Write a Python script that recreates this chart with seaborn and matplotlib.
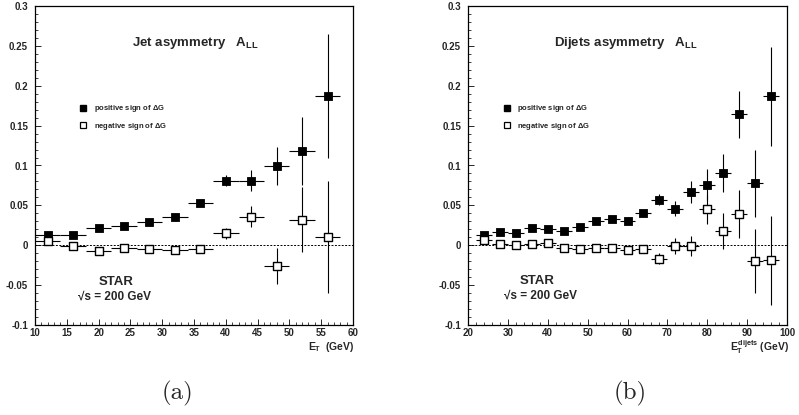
import numpy as np
import pandas as pd
import matplotlib
matplotlib.use("Agg")
import matplotlib.pyplot as plt
import seaborn as sns
from matplotlib.ticker import MultipleLocator
from matplotlib.lines import Line2D

sns.set_style("ticks")
plt.rcParams['font.family'] = ['Liberation Sans', 'DejaVu Sans']
plt.rcParams['font.weight'] = 'bold'
plt.rcParams['mathtext.fontset'] = 'custom'
plt.rcParams['mathtext.rm'] = 'Liberation Sans:bold'
plt.rcParams['mathtext.it'] = 'Liberation Sans:bold'
plt.rcParams['mathtext.bf'] = 'Liberation Sans:bold'
plt.rcParams['mathtext.sf'] = 'Liberation Sans:bold'

# ---------------- data ----------------
jet_x = [12, 16, 20, 24, 28, 32, 36, 40, 44, 48, 52, 56]
jet_pos = [0.013, 0.013, 0.022, 0.024, 0.029, 0.035, 0.053, 0.081, 0.081, 0.099, 0.118, 0.187]
jet_pos_err = [0.003, 0.003, 0.003, 0.003, 0.003, 0.003, 0.004, 0.007, 0.013, 0.024, 0.043, 0.078]
jet_neg = [0.005, -0.001, -0.007, -0.004, -0.005, -0.006, -0.005, 0.015, 0.036, -0.026, 0.032, 0.010]
jet_neg_err = [0.003, 0.003, 0.003, 0.003, 0.003, 0.003, 0.003, 0.007, 0.013, 0.022, 0.041, 0.070]

dijet_x = [24, 28, 32, 36, 40, 44, 48, 52, 56, 60, 64, 68, 72, 76, 80, 84, 88, 92, 96]
dijet_pos = [0.013, 0.016, 0.015, 0.022, 0.021, 0.018, 0.023, 0.030, 0.033, 0.031, 0.040,
             0.057, 0.046, 0.067, 0.076, 0.091, 0.164, 0.078, 0.187]
dijet_pos_err = [0.003, 0.003, 0.003, 0.003, 0.003, 0.003, 0.003, 0.003, 0.003, 0.004, 0.004,
                 0.007, 0.009, 0.014, 0.019, 0.024, 0.030, 0.042, 0.062]
dijet_neg = [0.006, 0.002, 0.000, 0.002, 0.003, -0.003, -0.005, -0.003, -0.003, -0.006, -0.005,
             -0.017, -0.001, -0.001, 0.045, 0.018, 0.039, -0.020, -0.019]
dijet_neg_err = [0.003, 0.003, 0.003, 0.003, 0.003, 0.003, 0.003, 0.003, 0.003, 0.003, 0.004,
                 0.007, 0.010, 0.013, 0.018, 0.023, 0.030, 0.040, 0.056]

bin_half_width = 2

y_ticks = [-0.1, -0.05, 0, 0.05, 0.1, 0.15, 0.2, 0.25, 0.3]
y_tick_labels = ["-0.1", "-0.05", "0", "0.05", "0.1", "0.15", "0.2", "0.25", "0.3"]
jet_x_ticks = [10, 15, 20, 25, 30, 35, 40, 45, 50, 55, 60]
dijet_x_ticks = [20, 30, 40, 50, 60, 70, 80, 90, 100]

panel_titles = ["Jet asymmetry   $A_{LL}$", "Dijets asymmetry   $A_{LL}$"]
legend_labels = [r"positive sign of $\Delta G$", r"negative sign of $\Delta G$"]
x_labels = [r"$E_T$  (GeV)", r"$E_T^{dijets}$ (GeV)"]
captions = ["(a)", "(b)"]

W, H = 799, 415
fig = plt.figure(figsize=(W / 100, H / 100), dpi=100)

def fx(px):
    return px / W

def fy(py):
    return 1 - py / H

ax1 = fig.add_axes([fx(35), fy(325), (353 - 35) / W, (325 - 6) / H])
ax2 = fig.add_axes([fx(468), fy(325), (787 - 468) / W, (325 - 6) / H])

panels = [
    dict(ax=ax1, x=jet_x, pos=jet_pos, pe=jet_pos_err, neg=jet_neg, ne=jet_neg_err,
         xlim=(10, 60), xticks=jet_x_ticks, minor=1),
    dict(ax=ax2, x=dijet_x, pos=dijet_pos, pe=dijet_pos_err, neg=dijet_neg, ne=dijet_neg_err,
         xlim=(20, 100), xticks=dijet_x_ticks, minor=2),
]

for i, p in enumerate(panels):
    ax = p["ax"]
    ax.axhline(0, color="black", lw=0.7, ls=(0, (2.0, 1.5)), zorder=1)
    df_pos = pd.DataFrame({"x": p["x"], "y": p["pos"], "err": p["pe"]})
    df_neg = pd.DataFrame({"x": p["x"], "y": p["neg"], "err": p["ne"]})
    for df in (df_pos, df_neg):
        ax.errorbar(df["x"], df["y"], xerr=bin_half_width, yerr=df["err"], fmt="none",
                    ecolor="black", elinewidth=0.8, capsize=0, zorder=2)
    sns.scatterplot(data=df_pos, x="x", y="y", ax=ax, marker="s", s=32,
                    color="black", edgecolor="black", linewidth=0.6, zorder=4, legend=False)
    sns.scatterplot(data=df_neg, x="x", y="y", ax=ax, marker="s", s=28,
                    color="white", edgecolor="black", linewidth=1.0, zorder=4, legend=False)

    ax.set_xlim(*p["xlim"])
    ax.set_ylim(-0.1, 0.3)
    ax.set_xticks(p["xticks"], [str(t) for t in p["xticks"]], fontweight="bold", fontsize=7)
    ax.set_yticks(y_ticks, y_tick_labels, fontweight="bold", fontsize=7)
    ax.xaxis.set_minor_locator(MultipleLocator(p["minor"]))
    ax.yaxis.set_minor_locator(MultipleLocator(0.01))
    ax.set_xlabel("")
    ax.set_ylabel("")
    ax.tick_params(axis="both", which="major", direction="in", length=4.5, width=0.7,
                   top=False, right=False)
    ax.tick_params(axis="both", which="minor", direction="in", length=2.2, width=0.6,
                   top=False, right=False)
    ax.tick_params(axis="y", pad=5)
    ax.tick_params(axis="x", pad=2.5)
    for s in ax.spines.values():
        s.set_visible(True)
        s.set_linewidth(0.9)
        s.set_color("black")

    handles = [
        Line2D([], [], marker="s", ls="none", markersize=4.5, markerfacecolor="black",
               markeredgecolor="black"),
        Line2D([], [], marker="s", ls="none", markersize=4.5, markerfacecolor="white",
               markeredgecolor="black", markeredgewidth=0.9),
    ]
    lx = 0.13 if i == 0 else 0.10
    ax.legend(handles, legend_labels, loc="center left", bbox_to_anchor=(lx, 0.65),
              frameon=False, handlelength=0.8, handletextpad=1.0,
              labelspacing=0.85, borderpad=0, prop={"weight": "bold", "size": 5.5})

# panel titles
fig.text(fx(195), fy(43), panel_titles[0], ha="center", va="center", fontsize=9.5, fontweight="bold")
fig.text(fx(626), fy(43), panel_titles[1], ha="center", va="center", fontsize=9.5, fontweight="bold")

# STAR labels
fig.text(fx(116), fy(282), "STAR", ha="center", va="center", fontsize=9.5, fontweight="bold")
fig.text(fx(114), fy(297), "√s = 200 GeV", ha="center", va="center", fontsize=8.5, fontweight="bold")
fig.text(fx(537), fy(281), "STAR", ha="center", va="center", fontsize=9.5, fontweight="bold")
fig.text(fx(541), fy(296), "√s = 200 GeV", ha="center", va="center", fontsize=8.5, fontweight="bold")

# x labels
fig.text(fx(355), fy(347), x_labels[0], ha="right", va="center", fontsize=7.5, fontweight="bold")
fig.text(fx(789), fy(347), x_labels[1], ha="right", va="center", fontsize=7.5, fontweight="bold")

# captions
fig.text(fx(177), fy(393), captions[0], ha="center", va="center", fontsize=18,
         fontfamily="cmr10", fontweight="normal")
fig.text(fx(630), fy(393), captions[1], ha="center", va="center", fontsize=18,
         fontfamily="cmr10", fontweight="normal")

fig.savefig("out.png", dpi=100)
